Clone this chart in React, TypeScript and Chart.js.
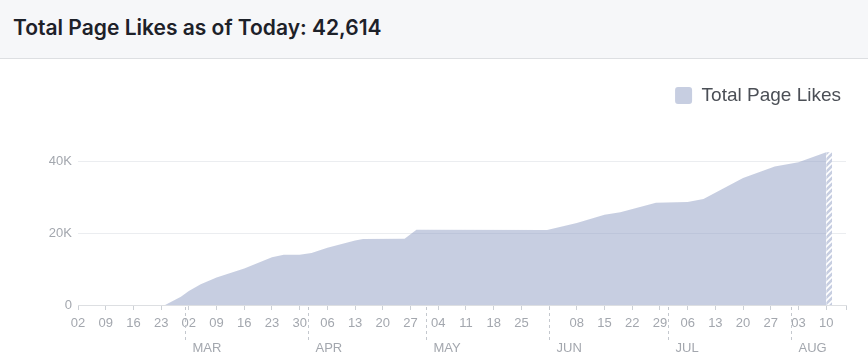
import React, { useEffect, useRef } from "react";
import { Chart, registerables } from "chart.js";

Chart.register(...registerables);

// ---- data (x = days since 02 Feb) ----
const days = [0, 22, 26, 28, 31, 35, 42, 49, 52, 56, 59, 63, 70, 72, 82.5, 85.5, 118.5, 122, 126, 133, 137, 146, 154, 158, 168, 176, 182, 189];
const likes = [0, 0, 2300, 3900, 5800, 7700, 10200, 13300, 14000, 14000, 14500, 16000, 18000, 18400, 18500, 21000, 20900, 21800, 22900, 25200, 25900, 28500, 28700, 29600, 35400, 38600, 39800, 42614];
const todayDays = [189, 190.5];
const todayLikes = [42614, 42614];

const weekTickDays = [0, 7, 14, 21, 28, 35, 42, 49, 56, 63, 70, 77, 84, 91, 98, 105, 112, 119, 126, 133, 140, 147, 154, 161, 168, 175, 182, 189];
const weekTickLabels = ["02", "09", "16", "23", "02", "09", "16", "23", "30", "06", "13", "20", "27", "04", "11", "18", "25", "", "08", "15", "22", "29", "06", "13", "20", "27", "03", "10"];
const axisEndDay = 194;

const monthStartDays = [27, 58, 88, 119, 149, 180];
const monthLabels = ["MAR", "APR", "MAY", "JUN", "JUL", "AUG"];

const yTickValues = [0, 20000, 40000];
const yTickLabels = ["0", "20K", "40K"];
const yMax = 53000;

const titleText = "Total Page Likes as of Today: 42,614";
const seriesLabel = "Total Page Likes";

const FILL = "rgba(143,158,196,0.5)";
const FILL_SOLID = "#c7cee1";
const AXIS_FONT = "'Liberation Sans', Arial, sans-serif";
const TICK_COLOR = "#a3a7ae";

const monthPlugin = {
  id: "monthMarks",
  afterDraw(chart: any) {
    const xs = chart.scales.x;
    const ctx = chart.ctx;
    ctx.save();
    ctx.strokeStyle = "#c4c8ce";
    ctx.lineWidth = 1;
    ctx.setLineDash([3, 3]);
    ctx.font = `13px ${AXIS_FONT}`;
    ctx.fillStyle = TICK_COLOR;
    ctx.textBaseline = "middle";
    ctx.textAlign = "left";
    monthStartDays.forEach((d, i) => {
      const px = Math.round(xs.getPixelForValue(d)) + 0.5;
      ctx.beginPath();
      ctx.moveTo(px, xs.top + 2);
      ctx.lineTo(px, xs.top + 38);
      ctx.stroke();
      ctx.fillText(monthLabels[i], px + 7, xs.top + 43);
    });
    ctx.restore();
  },
};

function makeHatch(): CanvasPattern | string {
  const c = document.createElement("canvas");
  c.width = 6;
  c.height = 6;
  const g = c.getContext("2d");
  if (!g) return FILL_SOLID;
  g.fillStyle = FILL_SOLID;
  g.fillRect(0, 0, 6, 6);
  g.strokeStyle = "#ffffff";
  g.lineWidth = 1.6;
  g.beginPath();
  g.moveTo(-1, 7);
  g.lineTo(7, -1);
  g.moveTo(-4, 4);
  g.lineTo(4, -4);
  g.moveTo(2, 10);
  g.lineTo(10, 2);
  g.stroke();
  return g.createPattern(c, "repeat") || FILL_SOLID;
}

export default function App() {
  const ref = useRef<HTMLCanvasElement | null>(null);

  useEffect(() => {
    if (!ref.current) return;
    const hatch = makeHatch();
    const chart = new Chart(ref.current, {
      type: "line",
      data: {
        datasets: [
          {
            label: seriesLabel,
            data: days.map((d, i) => ({ x: d, y: likes[i] })),
            backgroundColor: FILL,
            borderColor: "rgba(0,0,0,0)",
            borderWidth: 1,
            fill: "origin",
            pointRadius: 0,
            tension: 0,
          },
          {
            label: "today",
            data: todayDays.map((d, i) => ({ x: d, y: todayLikes[i] })),
            backgroundColor: hatch as any,
            borderColor: "rgba(0,0,0,0)",
            borderWidth: 1,
            fill: "origin",
            pointRadius: 0,
            tension: 0,
          },
        ],
      },
      options: {
        animation: false,
        responsive: true,
        maintainAspectRatio: false,
        layout: { padding: { top: 22, right: 22, left: 0, bottom: 0 } },
        plugins: {
          tooltip: { enabled: false },
          legend: {
            display: true,
            position: "top",
            align: "end",
            labels: {
              boxWidth: 17,
              boxHeight: 17,
              useBorderRadius: true,
              borderRadius: 3,
              padding: 5,
              color: "#4b4f56",
              font: { size: 19, family: AXIS_FONT },
              filter: (item: any) => item.datasetIndex === 0,
            },
          },
        },
        scales: {
          x: {
            type: "linear",
            min: 0,
            max: axisEndDay,
            afterBuildTicks: (s: any) => {
              s.ticks = [...weekTickDays.map((v) => ({ value: v })), { value: axisEndDay }];
            },
            afterFit: (s: any) => {
              s.height = 59;
            },
            ticks: {
              autoSkip: false,
              maxRotation: 0,
              padding: 6,
              color: TICK_COLOR,
              font: { size: 13, family: AXIS_FONT },
              callback: (_v: any, i: number) => weekTickLabels[i] ?? "",
            },
            grid: { drawOnChartArea: false, tickLength: 5, tickColor: "#ccd0d5" },
            border: { color: "#dddfe2" },
          },
          y: {
            min: 0,
            max: yMax,
            afterBuildTicks: (s: any) => {
              s.ticks = yTickValues.map((v) => ({ value: v }));
            },
            afterFit: (s: any) => {
              s.width = 78;
            },
            ticks: {
              padding: 6,
              color: TICK_COLOR,
              font: { size: 13, family: AXIS_FONT },
              callback: (_v: any, i: number) => yTickLabels[i] ?? "",
            },
            grid: { drawTicks: false, color: "#ebedf0" },
            border: { display: false },
          },
        },
      },
      plugins: [monthPlugin],
    });
    return () => chart.destroy();
  }, []);

  return (
    <div style={{ position: "fixed", left: 0, top: 0, width: 868, height: 364, background: "#ffffff" }}>
      <div
        style={{
          position: "absolute",
          left: 0,
          top: 0,
          width: 868,
          height: 58,
          background: "#f6f7f9",
          borderBottom: "1px solid #dddfe2",
          boxSizing: "content-box",
        }}
      >
        <div
          style={{
            position: "absolute",
            left: 13,
            top: 0,
            lineHeight: "56px",
            fontFamily: "Inter, 'Liberation Sans', Arial, sans-serif",
            fontWeight: 600,
            fontSize: 21,
            color: "#1d2129",
            whiteSpace: "nowrap",
          }}
        >
          {titleText}
        </div>
      </div>
      <div style={{ position: "absolute", left: 0, top: 59, width: 868, height: 305 }}>
        <canvas ref={ref} />
      </div>
    </div>
  );
}
